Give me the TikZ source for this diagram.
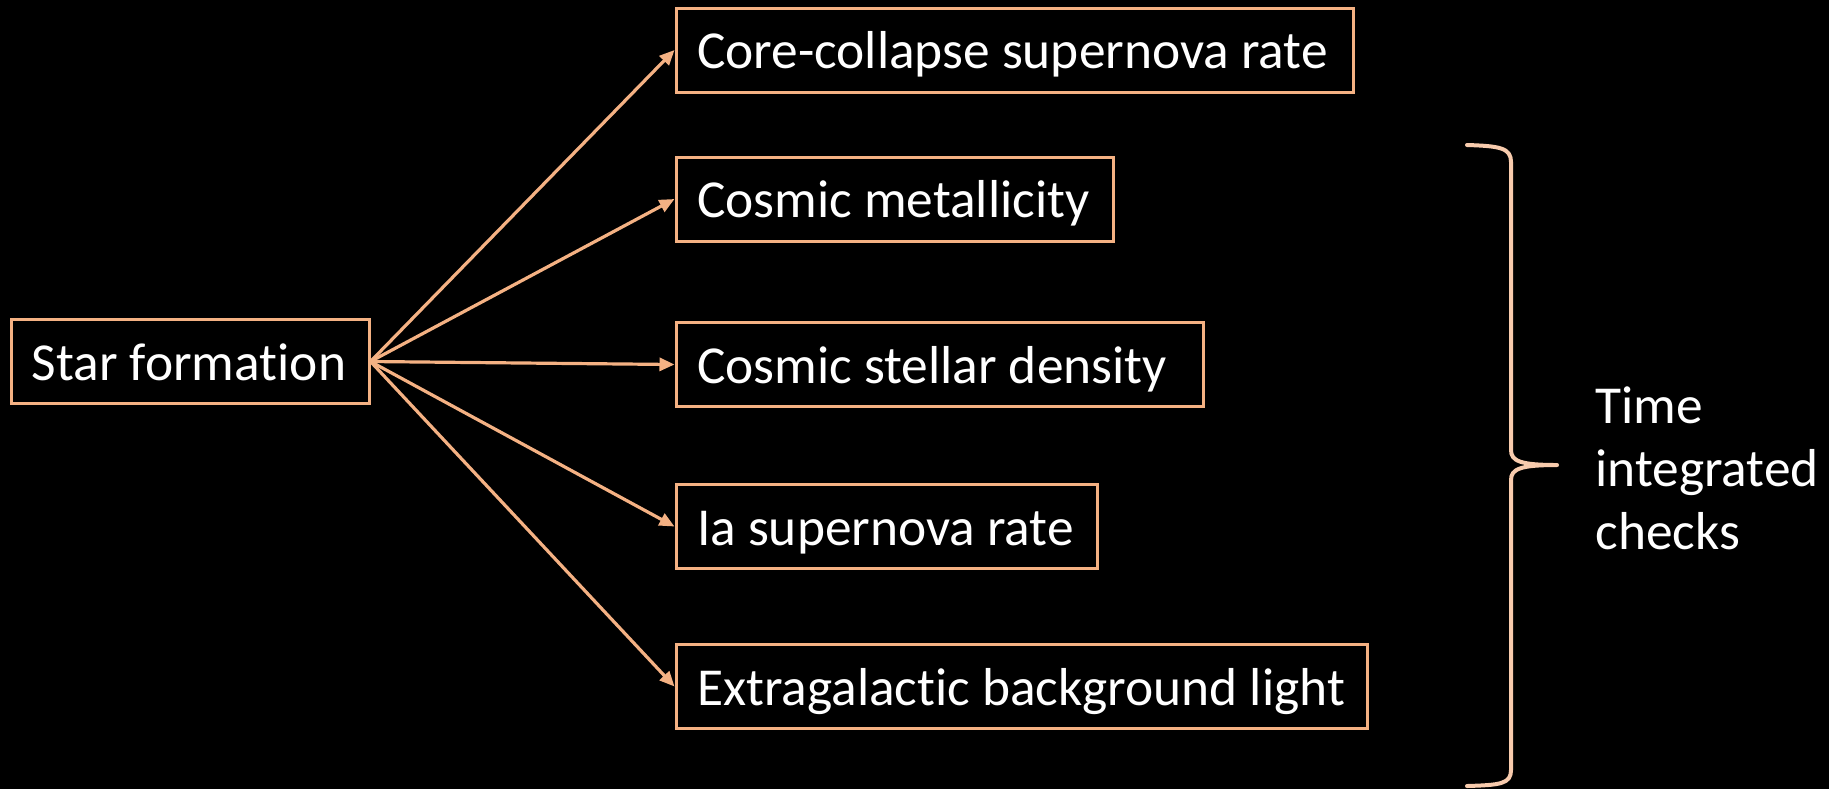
\documentclass[tikz,border=0pt]{standalone}
\usepackage{fontspec}
\setmainfont{Carlito}[Ligatures=NoCommon]
\usetikzlibrary{arrows.meta}
\definecolor{boxline}{HTML}{F4B183}
\definecolor{braceline}{HTML}{F8CBAD}
\newcommand{\boxfont}{\fontsize{26.7}{31.5}\selectfont}
\newcommand{\lbx}[2]{\makebox[#1][l]{#2}}
\begin{document}
\begin{tikzpicture}[x=0.5pt,y=-0.5pt,
  box/.style={draw=boxline, line width=1.5pt, fill=black, text=white,
    font=\boxfont, inner xsep=10.5pt, inner ysep=0pt,
    text height=24.8pt, text depth=6.2pt, minimum height=42pt},
  link/.style={draw=boxline, line width=1.6pt, -{Triangle[length=7.5pt,width=6.5pt]}},
  brace/.style={draw=braceline, line width=2pt, line cap=round, line join=round}]
\fill[black] (0,0) rectangle (1829,789);
\useasboundingbox (0,0) rectangle (1829,789);
\node[box] (sf) at (190,361.5) {\lbx{158pt}{Star formation}};
\node[box] (cc) at (1014.5,50) {\lbx{317.5pt}{Core-collapse supernova rate}};
\node[box] (cm) at (894.5,199) {\lbx{197.5pt}{Cosmic metallicity}};
\node[box] (csd) at (939.5,364.5) {\lbx{242.5pt}{Cosmic stellar density}};
\node[box] (ia) at (886.5,526.5) {\lbx{189.5pt}{Ia supernova rate}};
\node[box] (ebl) at (1021.5,686.5) {\lbx{324.5pt}{Extragalactic background light}};
\foreach \t in {cc,cm,csd,ia,ebl}{\draw[link] (sf.east) -- (\t.west);}
\coordinate (btop) at (1467,145);
\coordinate (btip) at (1557,465);
\coordinate (bbot) at (1467,786);
\draw[brace] (btop) .. controls (1500,146) and (1511,148) .. (1511,162) -- (1511,450)
  .. controls (1511,461) and (1520,465) .. (btip)
  .. controls (1520,465) and (1511,469) .. (1511,480) -- (1511,770)
  .. controls (1511,784) and (1500,785) .. (bbot);
\node[text=white, font=\boxfont, align=left, anchor=north west, inner sep=0pt] (tic) at (1595,386) {Time\\integrated\\checks};
\end{tikzpicture}
\end{document}
